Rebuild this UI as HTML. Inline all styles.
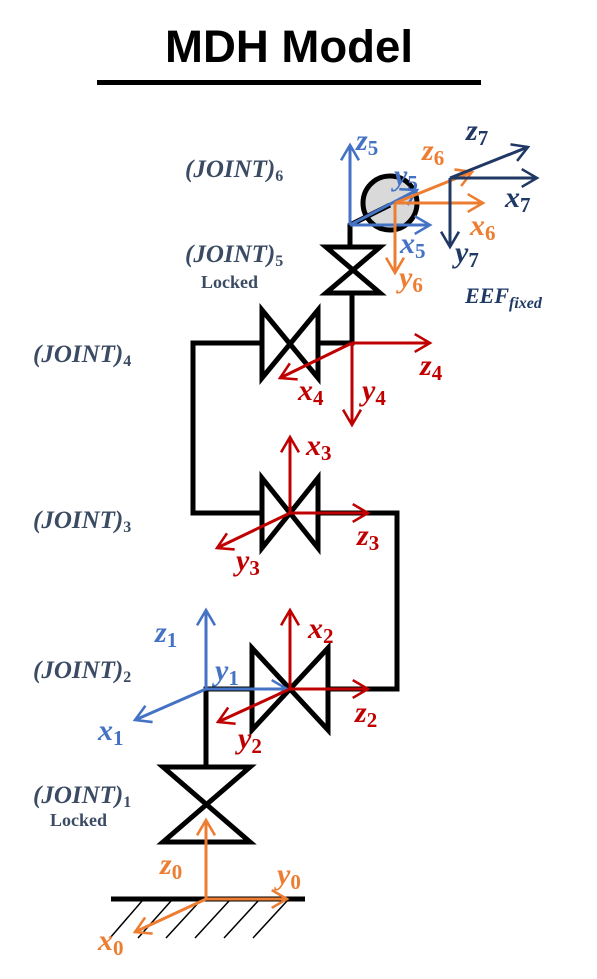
<!DOCTYPE html>
<html><head><meta charset="utf-8"><style>
html,body{margin:0;padding:0;background:#fff;}
svg{display:block;}
.lbl{font-family:"Liberation Serif",serif;font-style:italic;font-weight:bold;font-size:30px;}
.sub{font-size:21px;font-style:normal;}
.jt{font-family:"Liberation Serif",serif;font-style:italic;font-weight:bold;font-size:25px;fill:#3b4b63;}
.js{font-size:16px;font-style:normal;}
.lk{font-family:"Liberation Serif",serif;font-weight:bold;font-size:18px;fill:#3b4b63;}
</style></head><body>
<svg width="597" height="979" viewBox="0 0 597 979">
<defs>
<marker id="hb" viewBox="0 0 20 20" refX="16" refY="10" markerWidth="8.5" markerHeight="8.5" orient="auto" markerUnits="strokeWidth"><path d="M4 3 L16 10 L4 17" fill="none" stroke="#4472C4" stroke-width="2"/></marker>
<marker id="ho" viewBox="0 0 20 20" refX="16" refY="10" markerWidth="8.5" markerHeight="8.5" orient="auto" markerUnits="strokeWidth"><path d="M4 3 L16 10 L4 17" fill="none" stroke="#ED7D31" stroke-width="2"/></marker>
<marker id="hr" viewBox="0 0 20 20" refX="16" refY="10" markerWidth="8.5" markerHeight="8.5" orient="auto" markerUnits="strokeWidth"><path d="M4 3 L16 10 L4 17" fill="none" stroke="#C00000" stroke-width="2"/></marker>
<marker id="hn" viewBox="0 0 20 20" refX="16" refY="10" markerWidth="8.5" markerHeight="8.5" orient="auto" markerUnits="strokeWidth"><path d="M4 3 L16 10 L4 17" fill="none" stroke="#1F3864" stroke-width="2"/></marker>
</defs>

<text x="289" y="62" text-anchor="middle" textLength="248" lengthAdjust="spacingAndGlyphs" font-family="Liberation Sans,sans-serif" font-weight="bold" font-size="45">MDH Model</text>
<rect x="97" y="80" width="384" height="5" fill="#000"/>

<g stroke="#000">
<line x1="111" y1="899" x2="305" y2="899" stroke-width="5"/>
<g stroke-width="1.5">
<line x1="142" y1="901" x2="110" y2="938"/><line x1="171" y1="901" x2="138" y2="938"/><line x1="200" y1="901" x2="166" y2="938"/>
<line x1="229" y1="901" x2="195" y2="938"/><line x1="258" y1="901" x2="224" y2="938"/><line x1="287" y1="901" x2="253" y2="938"/>
</g></g>

<g fill="none" stroke="#000" stroke-width="5" stroke-linejoin="miter">
<polyline points="206,767 206,689 252,689"/>
<polyline points="328,689 397,689 397,513 318,513"/>
<polyline points="262,513 193,513 193,343 262,343"/>
<polyline points="318,343 352,343 352,293"/>
<polyline points="350,247 350,225 390,205"/>
</g>
<g fill="none" stroke="#000" stroke-width="5"><path d="M163 767 H250 L163 842 H250 Z"/></g>
<g fill="none" stroke="#000" stroke-width="5"><path d="M252 648 V730 L328 648 V730 Z"/></g>
<g fill="none" stroke="#000" stroke-width="5"><path d="M262 478 V548 L318 478 V548 Z"/></g>
<g fill="none" stroke="#000" stroke-width="5"><path d="M262 310 V378 L318 310 V378 Z"/></g>
<g fill="none" stroke="#000" stroke-width="5"><path d="M326 247 H380 L326 293 H380 Z"/></g>
<circle cx="390" cy="203" r="27" fill="#d9d9d9" stroke="#000" stroke-width="5"/>
<line x1="350" y1="225" x2="390" y2="205" stroke="#000" stroke-width="5"/>

<g stroke="#ED7D31" stroke-width="3" fill="none">
<line x1="206" y1="899" x2="206" y2="820" marker-end="url(#ho)"/>
<line x1="206" y1="899" x2="287" y2="899" marker-end="url(#ho)"/>
<line x1="206" y1="899" x2="135" y2="932" marker-end="url(#ho)"/>
</g>
<g stroke="#4472C4" stroke-width="3" fill="none">
<line x1="206" y1="689" x2="206" y2="610" marker-end="url(#hb)"/>
<line x1="206" y1="689" x2="287" y2="689" marker-end="url(#hb)"/>
<line x1="206" y1="689" x2="135" y2="720" marker-end="url(#hb)"/>
</g>
<g stroke="#C00000" stroke-width="3" fill="none">
<line x1="290" y1="689" x2="290" y2="610" marker-end="url(#hr)"/>
<line x1="290" y1="689" x2="368" y2="689" marker-end="url(#hr)"/>
<line x1="290" y1="689" x2="218" y2="722" marker-end="url(#hr)"/>
</g>
<g stroke="#C00000" stroke-width="3" fill="none">
<line x1="290" y1="513" x2="290" y2="437" marker-end="url(#hr)"/>
<line x1="290" y1="513" x2="368" y2="513" marker-end="url(#hr)"/>
<line x1="290" y1="513" x2="217" y2="548" marker-end="url(#hr)"/>
</g>
<g stroke="#C00000" stroke-width="3" fill="none">
<line x1="352" y1="343" x2="430" y2="343" marker-end="url(#hr)"/>
<line x1="352" y1="343" x2="352" y2="425" marker-end="url(#hr)"/>
<line x1="352" y1="343" x2="280" y2="378" marker-end="url(#hr)"/>
</g>
<g stroke="#4472C4" stroke-width="3" fill="none">
<line x1="350" y1="225" x2="350" y2="145" marker-end="url(#hb)"/>
<line x1="350" y1="225" x2="430" y2="225" marker-end="url(#hb)"/>
<line x1="350" y1="225" x2="417" y2="190" marker-end="url(#hb)"/>
</g>
<g stroke="#ED7D31" stroke-width="3" fill="none">
<line x1="395" y1="203" x2="483" y2="203" marker-end="url(#ho)"/>
<line x1="395" y1="203" x2="395" y2="273" marker-end="url(#ho)"/>
<line x1="395" y1="203" x2="472" y2="172" marker-end="url(#ho)"/>
</g>
<g stroke="#1F3864" stroke-width="3" fill="none">
<line x1="450" y1="178" x2="537" y2="178" marker-end="url(#hn)"/>
<line x1="450" y1="178" x2="450" y2="247" marker-end="url(#hn)"/>
<line x1="450" y1="178" x2="528" y2="147" marker-end="url(#hn)"/>
</g>

<g class="lbl">
<text x="160" y="874" fill="#ED7D31">z<tspan class="sub" dy="5">0</tspan></text>
<text x="277" y="884" fill="#ED7D31">y<tspan class="sub" dy="5">0</tspan></text>
<text x="98" y="950" fill="#ED7D31">x<tspan class="sub" dy="5">0</tspan></text>
<text x="155" y="642" fill="#4472C4">z<tspan class="sub" dy="5">1</tspan></text>
<text x="215" y="680" fill="#4472C4">y<tspan class="sub" dy="5">1</tspan></text>
<text x="98" y="740" fill="#4472C4">x<tspan class="sub" dy="5">1</tspan></text>
<text x="308" y="638" fill="#C00000">x<tspan class="sub" dy="5">2</tspan></text>
<text x="355" y="722" fill="#C00000">z<tspan class="sub" dy="5">2</tspan></text>
<text x="238" y="748" fill="#C00000">y<tspan class="sub" dy="5">2</tspan></text>
<text x="306" y="455" fill="#C00000">x<tspan class="sub" dy="5">3</tspan></text>
<text x="357" y="545" fill="#C00000">z<tspan class="sub" dy="5">3</tspan></text>
<text x="236" y="570" fill="#C00000">y<tspan class="sub" dy="5">3</tspan></text>
<text x="420" y="375" fill="#C00000">z<tspan class="sub" dy="5">4</tspan></text>
<text x="362" y="400" fill="#C00000">y<tspan class="sub" dy="5">4</tspan></text>
<text x="298" y="400" fill="#C00000">x<tspan class="sub" dy="5">4</tspan></text>
<text x="356" y="150" fill="#4472C4">z<tspan class="sub" dy="5">5</tspan></text>
<text x="394" y="185" fill="#4472C4">y<tspan class="sub" dy="5">5</tspan></text>
<text x="400" y="253" fill="#4472C4">x<tspan class="sub" dy="5">5</tspan></text>
<text x="422" y="160" fill="#ED7D31">z<tspan class="sub" dy="5">6</tspan></text>
<text x="470" y="235" fill="#ED7D31">x<tspan class="sub" dy="5">6</tspan></text>
<text x="399" y="287" fill="#ED7D31">y<tspan class="sub" dy="5">6</tspan></text>
<text x="466" y="140" fill="#1F3864">z<tspan class="sub" dy="5">7</tspan></text>
<text x="505" y="207" fill="#1F3864">x<tspan class="sub" dy="5">7</tspan></text>
<text x="455" y="262" fill="#1F3864">y<tspan class="sub" dy="5">7</tspan></text>
<text x="465" y="303" fill="#1F3864" font-size="22">EEF<tspan font-size="16" dy="5">fixed</tspan></text>
</g>

<g>
<text class="jt" x="185" y="177">(JOINT)<tspan class="js" dy="4">6</tspan></text>
<text class="jt" x="185" y="262">(JOINT)<tspan class="js" dy="4">5</tspan></text>
<text class="lk" x="201" y="288">Locked</text>
<text class="jt" x="33" y="362">(JOINT)<tspan class="js" dy="4">4</tspan></text>
<text class="jt" x="33" y="528">(JOINT)<tspan class="js" dy="4">3</tspan></text>
<text class="jt" x="33" y="678">(JOINT)<tspan class="js" dy="4">2</tspan></text>
<text class="jt" x="33" y="803">(JOINT)<tspan class="js" dy="4">1</tspan></text>
<text class="lk" x="50" y="826">Locked</text>
</g>
</svg>
</body></html>
